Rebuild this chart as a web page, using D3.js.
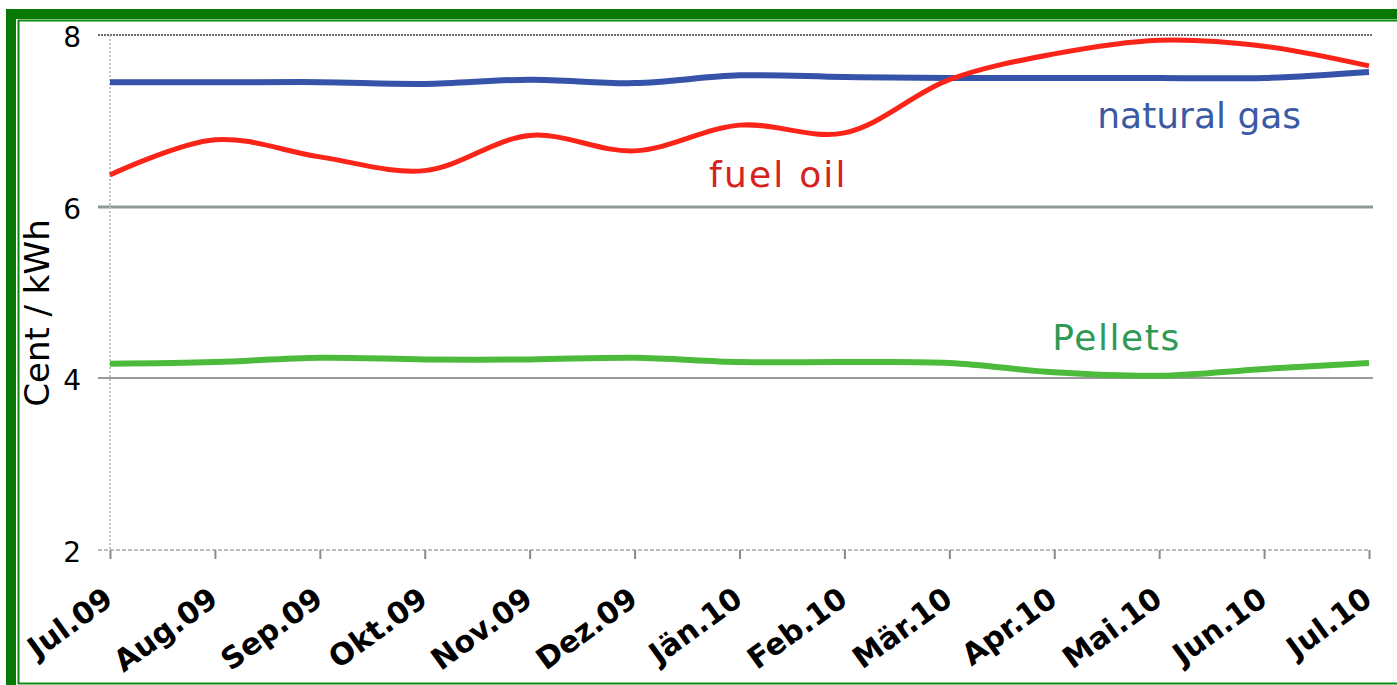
<!DOCTYPE html>
<head>
    <meta charset="utf-8">
    <style>
        html,
        body {
            margin: 0;
            padding: 0;
            background: #fff;
        }

        svg {
            display: block;
            font-family: "DejaVu Sans", Verdana, sans-serif;
        }

        .xlab {
            font-weight: bold;
            font-size: 30px;
        }

        .ylab {
            font-size: 28px;
        }
    </style>
    <script src="https://cdnjs.cloudflare.com/ajax/libs/d3/7.8.5/d3.min.js"></script>
</head>

<body>
    <div id="chart"></div>

    <script>
        // months along the bottom
        var months = ["Jul.09", "Aug.09", "Sep.09", "Okt.09", "Nov.09", "Dez.09", "Jän.10",
            "Feb.10", "Mär.10", "Apr.10", "Mai.10", "Jun.10", "Jul.10"];

        // Cent / kWh
        var gas = [7.45, 7.45, 7.45, 7.43, 7.48, 7.44, 7.53, 7.51, 7.50, 7.50, 7.50, 7.50, 7.57];
        var oil = [6.37, 6.78, 6.58, 6.42, 6.83, 6.65, 6.95, 6.86, 7.48, 7.78, 7.94, 7.87, 7.64];
        var pellets = [4.17, 4.19, 4.24, 4.22, 4.22, 4.24, 4.19, 4.19, 4.18, 4.07, 4.03, 4.11, 4.18];

        var yTicks = [2, 4, 6, 8];

        // label text, month position (fractional) and value for the baseline
        var seriesLabels = [
            { key: "gas", text: "natural gas", at: 9.41, v: 6.92 },
            { key: "oil", text: "fuel oil", at: 5.71, v: 6.23 },
            { key: "pellets", text: "Pellets", at: 8.98, v: 4.33 }
        ];

        var colors = { gas: "#3553a8", oil: "#fa2418", pellets: "#4cbb3c" };
        var labelColors = { gas: "#3a5aa6", oil: "#d42222", pellets: "#2f9a55" };
        var labelSpacing = { gas: 0, oil: 2.2, pellets: 1.6 };

        var W = 1397, H = 685;
        var svg = d3.select("#chart").append("svg")
            .attr("width", W)
            .attr("height", H);

        // green frame
        svg.append("rect").attr("x", 6).attr("y", 9).attr("width", W).attr("height", 10).attr("fill", "#067806");
        svg.append("rect").attr("x", 6).attr("y", 9).attr("width", 10).attr("height", H).attr("fill", "#067806");
        svg.append("rect").attr("x", 18.5).attr("y", 20.5).attr("width", W).attr("height", 663)
            .attr("fill", "none").attr("stroke", "#0a8a0a").attr("stroke-width", 2);

        var x = d3.scalePoint().domain(months).range([110, 1369]);
        var y = d3.scaleLinear().domain([2, 8]).range([550, 35]);
        var step = x.step();

        // horizontal grid
        var gridStyle = {
            8: { c: "#6a6a6a", w: 2, dash: "2,1" },
            6: { c: "#8f9797", w: 3, dash: null },
            4: { c: "#9a9a9a", w: 2, dash: null },
            2: { c: "#bdbdbd", w: 2, dash: "4,2" }
        };
        svg.append("g").selectAll("line")
            .data(yTicks)
            .enter().append("line")
            .attr("x1", 98)
            .attr("x2", function (d) { return d == 2 ? x(months[12]) : 1373; })
            .attr("y1", function (d) { return Math.round(y(d)); })
            .attr("y2", function (d) { return Math.round(y(d)); })
            .attr("stroke", function (d) { return gridStyle[d].c; })
            .attr("stroke-width", function (d) { return gridStyle[d].w; })
            .attr("stroke-dasharray", function (d) { return gridStyle[d].dash; });

        // left axis, dotted
        svg.append("line")
            .attr("x1", 110).attr("x2", 110)
            .attr("y1", y(8)).attr("y2", y(2))
            .attr("stroke", "#c4c4c4").attr("stroke-width", 2)
            .attr("stroke-dasharray", "2,2");

        // x axis ticks + labels
        var xAxis = d3.axisBottom(x).tickSize(9).tickPadding(0).tickFormat("");
        var gx = svg.append("g")
            .attr("transform", "translate(0," + Math.round(y(2)) + ")")
            .call(xAxis);
        gx.select(".domain").remove();
        gx.selectAll(".tick line").attr("stroke", "#8a8a8a").attr("stroke-width", 2);

        svg.append("g").selectAll("text")
            .data(months)
            .enter().append("text")
            .attr("class", "xlab")
            .attr("text-anchor", "end")
            .attr("transform", function (d) {
                return "translate(" + (x(d) + 5) + "," + (y(2) + 53) + ") rotate(-36)";
            })
            .text(function (d) { return d; });

        // y tick labels
        svg.append("g").selectAll("text")
            .data(yTicks)
            .enter().append("text")
            .attr("class", "ylab")
            .attr("x", 81)
            .attr("y", function (d) { return y(d) + 12; })
            .attr("text-anchor", "end")
            .text(function (d) { return d; });

        svg.append("text")
            .attr("transform", "translate(49,313) rotate(-90)")
            .attr("text-anchor", "middle")
            .attr("font-size", 34)
            .text("Cent / kWh");

        // series lines
        var line = d3.line()
            .x(function (d, i) { return x(months[i]); })
            .y(function (d) { return y(d); })
            .curve(d3.curveCatmullRom.alpha(0.5));

        var series = [
            { key: "pellets", values: pellets, w: 6 },
            { key: "gas", values: gas, w: 6 },
            { key: "oil", values: oil, w: 5 }
        ];
        svg.append("g").selectAll("path")
            .data(series)
            .enter().append("path")
            .attr("d", function (d) { return line(d.values); })
            .attr("fill", "none")
            .attr("stroke", function (d) { return colors[d.key]; })
            .attr("stroke-width", function (d) { return d.w; })
            .attr("stroke-linejoin", "round");

        // series names
        svg.append("g").selectAll("text")
            .data(seriesLabels)
            .enter().append("text")
            .attr("x", function (d) { return x(months[0]) + d.at * step; })
            .attr("y", function (d) { return y(d.v); })
            .attr("fill", function (d) { return labelColors[d.key]; })
            .attr("font-size", 36)
            .attr("letter-spacing", function (d) { return labelSpacing[d.key]; })
            .text(function (d) { return d.text; });
    </script>
</body>
